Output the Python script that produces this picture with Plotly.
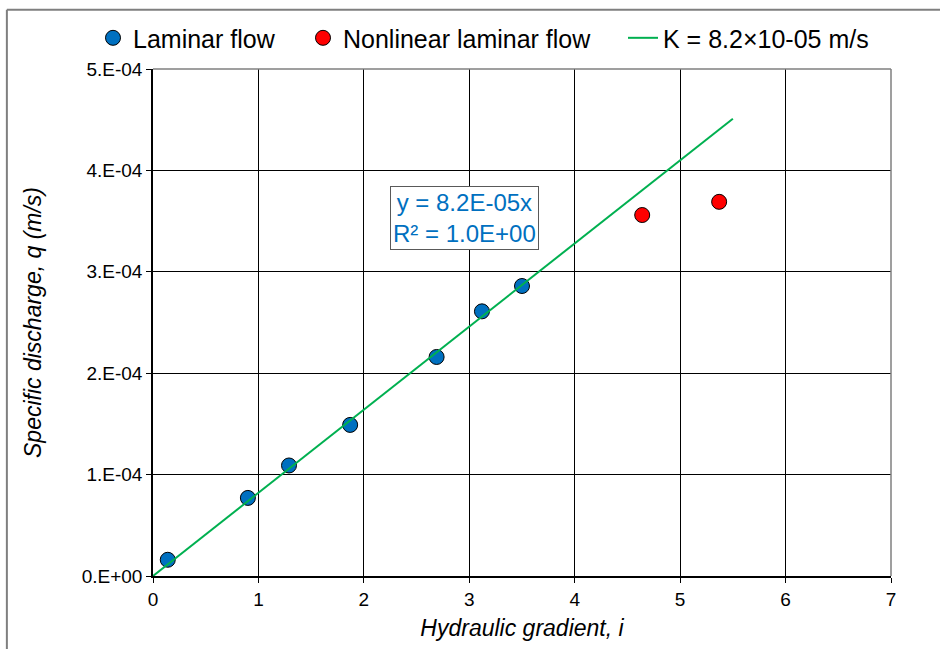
import plotly.graph_objects as go

# Data
laminar_i = [0.14, 0.90, 1.29, 1.87, 2.69, 3.12, 3.50]
laminar_q = [1.6e-5, 7.7e-5, 1.09e-4, 1.49e-4, 2.16e-4, 2.61e-4, 2.86e-4]
nonlin_i = [4.64, 5.37]
nonlin_q = [3.56e-4, 3.69e-4]
K = 8.2e-5
fit_i = [0.0, 5.5]
fit_q = [K * v for v in fit_i]

x_ticks = [0, 1, 2, 3, 4, 5, 6, 7]
y_tickvals = [0, 1e-4, 2e-4, 3e-4, 4e-4, 5e-4]
y_ticktext = ["0.E+00", "1.E-04", "2.E-04", "3.E-04", "4.E-04", "5.E-04"]

FONT = "Liberation Sans, Arial, sans-serif"

fig = go.Figure()
fig.add_trace(go.Scatter(
    x=laminar_i, y=laminar_q, mode="markers", name="Laminar flow",
    marker=dict(color="#0070C0", size=15, line=dict(color="black", width=1)),
    legendwidth=165,
))
fig.add_trace(go.Scatter(
    x=nonlin_i, y=nonlin_q, mode="markers", name="Nonlinear laminar flow",
    marker=dict(color="#FF0000", size=15, line=dict(color="black", width=1)),
    legendwidth=275,
))
fig.add_trace(go.Scatter(
    x=fit_i, y=fit_q, mode="lines", name="K = 8.2×10-05 m/s",
    line=dict(color="#00B050", width=2),
))

fig.update_layout(
    width=940, height=649,
    margin=dict(l=153, r=49, t=69, b=71),
    paper_bgcolor="white", plot_bgcolor="white",
    font=dict(family=FONT, color="black", size=19),
    showlegend=True,
    legend=dict(
        orientation="h", x=-0.0813, xanchor="left", y=1.061, yanchor="middle",
        font=dict(size=25, family=FONT), bgcolor="rgba(0,0,0,0)",
        itemwidth=30, tracegroupgap=0,
    ),
    xaxis=dict(
        range=[0, 7], tickvals=x_ticks, showgrid=True, gridcolor="black", gridwidth=1,
        showline=True, linecolor="black", linewidth=1.5,
        ticks="outside", ticklen=5, tickcolor="black",
        tickfont=dict(size=19, family=FONT), zeroline=False,
        title=dict(text="<i>Hydraulic gradient, i</i>", font=dict(size=23, family=FONT), standoff=11),
    ),
    yaxis=dict(
        range=[0, 5e-4], tickvals=y_tickvals, ticktext=y_ticktext,
        showgrid=True, gridcolor="black", gridwidth=1,
        showline=True, linecolor="black", linewidth=1.5,
        ticks="outside", ticklen=5, tickcolor="black",
        tickfont=dict(size=19, family=FONT), zeroline=False,
        title=dict(text="<i>Specific discharge, q (m/s)</i>", font=dict(size=23, family=FONT), standoff=34),
    ),
)

# plot area top/right border (gray)
fig.add_shape(type="line", xref="paper", yref="paper", x0=0, x1=1, y0=1, y1=1,
              line=dict(color="#7f7f7f", width=1.5), layer="above")
fig.add_shape(type="line", xref="paper", yref="paper", x0=1, x1=1, y0=0, y1=1,
              line=dict(color="#7f7f7f", width=1.5), layer="above")
# outer chart border
fig.add_shape(type="line", xref="paper", yref="paper", x0=-0.198, x1=-0.198, y0=-0.2, y1=1.117,
              line=dict(color="#7f7f7f", width=2), layer="above")
fig.add_shape(type="line", xref="paper", yref="paper", x0=-0.198, x1=1.2, y0=1.117, y1=1.117,
              line=dict(color="#7f7f7f", width=2), layer="above")

fig.add_annotation(
    x=2.95, y=3.53e-4, xref="x", yref="y", showarrow=False,
    text="y = 8.2E-05x<br>R² = 1.0E+00",
    font=dict(size=24, family=FONT, color="#0070C0"),
    bgcolor="white", bordercolor="#595959", borderwidth=1, borderpad=2,
)

fig.write_html("out.html")
